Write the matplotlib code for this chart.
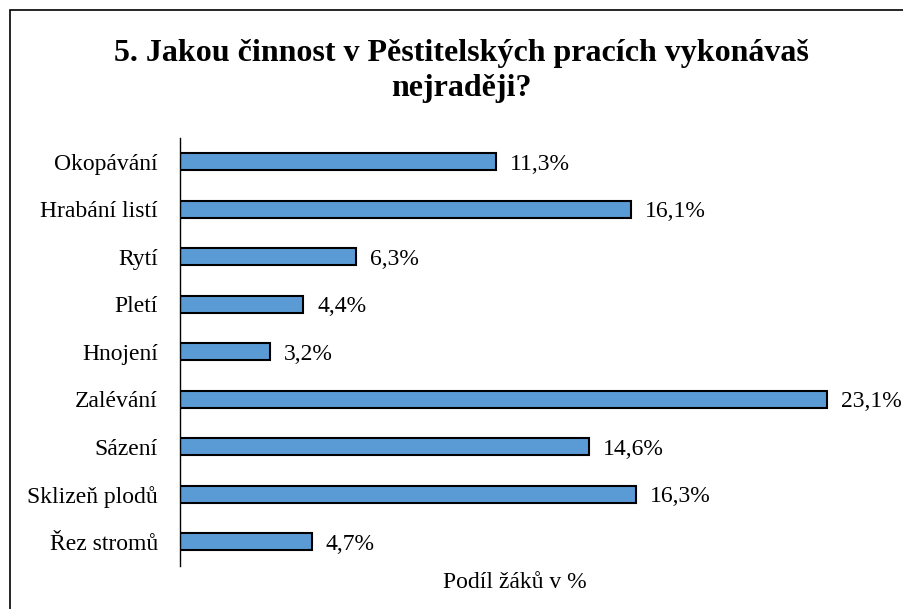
import matplotlib.pyplot as plt
from matplotlib.patches import Rectangle

# data
categories = ['Okopávání', 'Hrabání listí', 'Rytí', 'Pletí', 'Hnojení',
              'Zalévání', 'Sázení', 'Sklizeň plodů', 'Řez stromů']
values = [11.3, 16.1, 6.3, 4.4, 3.2, 23.1, 14.6, 16.3, 4.7]
value_labels = ['11,3%', '16,1%', '6,3%', '4,4%', '3,2%', '23,1%', '14,6%', '16,3%', '4,7%']
title = '5. Jakou činnost v Pěstitelských pracích vykonávaš\nnejraději?'
xlabel = 'Podíl žáků v %'

plt.rcParams['font.family'] = ['Liberation Serif', 'DejaVu Serif']

fig = plt.figure(figsize=(9.04, 6.09), dpi=100)
ax = fig.add_axes([180/904, 43.5/609, 700/904, 427.5/609])

pos = list(range(len(categories)))
ax.barh(pos, values, height=0.36, color='#5B9BD5', edgecolor='black', linewidth=1.5)
for p, v, lab in zip(pos, values, value_labels):
    ax.text(v + 0.5, p, lab, va='center_baseline', ha='left', fontsize=17)

ax.set_ylim(len(categories) - 0.5, -0.5)
ax.set_xlim(0, 25)
ax.set_yticks(pos)
ax.set_yticklabels(categories, fontsize=17)
ax.tick_params(axis='y', length=0, pad=16)
ax.set_xticks([])
for s in ['top', 'right', 'bottom']:
    ax.spines[s].set_visible(False)
ax.spines['left'].set_linewidth(1.0)

ax.set_xlabel(xlabel, fontsize=17)
ax.xaxis.set_label_coords(0.479, -0.04)
ax.xaxis.label.set_va('center')

fig.text(461/904, 1 - 71/609, title, ha='center', va='center',
         fontsize=23, fontweight='bold', linespacing=1.25)

fig.patches.append(Rectangle((10/904, -0.1), 1.0, (609 - 10)/609 + 0.1,
                             transform=fig.transFigure, fill=False,
                             edgecolor='black', linewidth=1.2))

fig.savefig('out.png', dpi=100)
